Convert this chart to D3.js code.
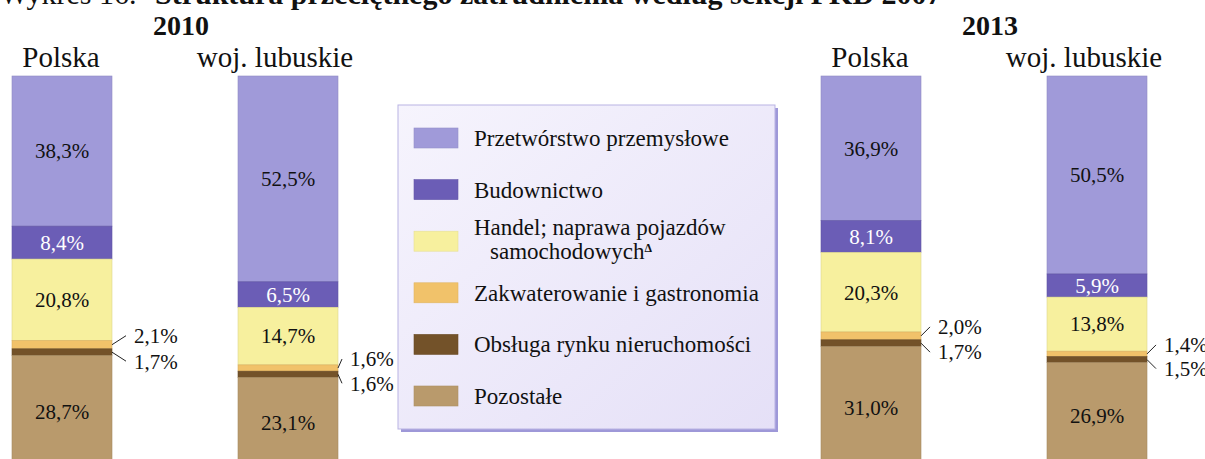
<!DOCTYPE html>
<html lang="pl">
<head>
<meta charset="utf-8">
<title>Struktura przeciętnego zatrudnienia</title>
<script src="https://d3js.org/d3.v7.min.js"></script>
<style>
  body { margin: 0; background: #fff; }
  svg text { font-family: "Liberation Serif", "Times New Roman", serif; fill: #111; }
</style>
</head>
<body>
<script>
// data
var sectors = ["Przetwórstwo przemysłowe", "Budownictwo", "Handel; naprawa pojazdów samochodowych",
               "Zakwaterowanie i gastronomia", "Obsługa rynku nieruchomości", "Pozostałe"];
var sectorColors = ["#a09ad9", "#6b5db6", "#f7f09e", "#f1c26a", "#735229", "#b99a6c"];
var years = ["2010", "2013"];
var regions = ["Polska", "woj. lubuskie"];
var polska2010 = [38.3, 8.4, 20.8, 2.1, 1.7, 28.7];
var lubuskie2010 = [52.5, 6.5, 14.7, 1.6, 1.6, 23.1];
var polska2013 = [36.9, 8.1, 20.3, 2.0, 1.7, 31.0];
var lubuskie2013 = [50.5, 5.9, 13.8, 1.4, 1.5, 26.9];

var bars = [
  {year: "2010", region: "Polska", values: polska2010},
  {year: "2010", region: "woj. lubuskie", values: lubuskie2010},
  {year: "2013", region: "Polska", values: polska2013},
  {year: "2013", region: "woj. lubuskie", values: lubuskie2013}
];

var W = 1205, H = 459;
var svg = d3.select("body").append("svg").attr("width", W).attr("height", H);

var pl = d3.formatLocale({decimal: ",", thousands: " ", grouping: [3], currency: ["", " zł"]});
var fmt = function(v) { return pl.format(".1f")(v) + "%"; };

var barW = 100;
var xYear = d3.scalePoint().domain(years).range([12, 821]);
var xRegion = d3.scalePoint().domain(regions).range([0, 226]);
var y = d3.scaleLinear().domain([0, 100]).range([76, 468]);
var color = d3.scaleOrdinal().domain(sectors).range(sectorColors);

// title (cut off at top, as in the source)
var title = svg.append("text").attr("y", 4).style("font-size", "30px");
title.append("tspan").attr("x", 0).text("Wykres 16.");
title.append("tspan").attr("x", 155).style("font-weight", "bold")
  .text("Struktura przeciętnego zatrudnienia według sekcji PKD 2007");

svg.selectAll(".year").data(years).enter().append("text")
  .attr("class", "year")
  .attr("x", function(d) { return xYear(d) + 169; })
  .attr("y", 35)
  .attr("text-anchor", "middle")
  .style("font-size", "28px").style("font-weight", "bold")
  .text(function(d) { return d; });

var g = svg.selectAll(".bar").data(bars).enter().append("g")
  .attr("class", "bar")
  .attr("transform", function(d) { return "translate(" + (xYear(d.year) + xRegion(d.region)) + ",0)"; });

g.append("text")
  .attr("x", function(d) { return d.region === "Polska" ? barW / 2 - 1 : barW / 2 - 13; })
  .attr("y", 67)
  .attr("text-anchor", "middle")
  .style("font-size", "29px")
  .text(function(d) { return d.region; });

g.each(function(d) {
  var sel = d3.select(this);
  var cum = [0].concat(Array.from(d3.cumsum(d.values)));
  var segs = d.values.map(function(v, i) { return {v: v, i: i, y0: cum[i], y1: cum[i + 1]}; });

  sel.selectAll("rect").data(segs).enter().append("rect")
    .attr("x", 0).attr("width", barW)
    .attr("y", function(s) { return y(s.y0); })
    .attr("height", function(s) { return y(s.y1) - y(s.y0); })
    .attr("fill", function(s) { return color(sectors[s.i]); })
    .attr("stroke", function(s) { return d3.color(color(sectors[s.i])).darker(0.3); })
    .attr("stroke-width", 0.6);

  // labels inside the bigger segments
  sel.selectAll("text.val").data(segs.filter(function(s) { return s.i !== 3 && s.i !== 4; })).enter()
    .append("text").attr("class", "val")
    .attr("x", barW / 2)
    .attr("y", function(s) { return (y(s.y0) + y(s.y1)) / 2; })
    .attr("dy", "0.35em")
    .attr("text-anchor", "middle")
    .style("font-size", "21px")
    .style("fill", function(s) { return s.i === 1 ? "#fff" : "#111"; })
    .text(function(s) { return fmt(s.v); });

  // small segments: labels outside with leader lines
  var gap = d.year === "2010" && d.region === "Polska" ? 22 : (d.year === "2010" ? 12 : 17);
  segs.filter(function(s) { return s.i === 3 || s.i === 4; }).forEach(function(s) {
    var cy = (y(s.y0) + y(s.y1)) / 2;
    var off = s.i === 3 ? -9 : 9;
    sel.append("line")
      .attr("x1", barW).attr("y1", cy)
      .attr("x2", barW + gap - 8).attr("y2", cy + off)
      .attr("stroke", "#222").attr("stroke-width", 1);
    sel.append("text")
      .attr("x", barW + gap)
      .attr("y", cy + off)
      .attr("dy", "0.35em")
      .style("font-size", "21px")
      .text(fmt(s.v));
  });
});

// legend
var defs = svg.append("defs");
var grad = defs.append("linearGradient").attr("id", "lgGrad")
  .attr("x1", "0").attr("y1", "0").attr("x2", "1").attr("y2", "1");
grad.append("stop").attr("offset", "0%").attr("stop-color", "#f6f4fd");
grad.append("stop").attr("offset", "100%").attr("stop-color", "#e5e0f7");

var lg = svg.append("g").attr("transform", "translate(398,105)");
lg.append("rect").attr("x", 3).attr("y", 3).attr("width", 377).attr("height", 324).attr("fill", "#9e98d8");
lg.append("rect").attr("x", 0).attr("y", 0).attr("width", 377).attr("height", 324)
  .attr("fill", "url(#lgGrad)").attr("stroke", "#b9b3e3").attr("stroke-width", 1);

var rowY = d3.scalePoint().domain(sectors).range([33, 291]);
var item = lg.selectAll(".item").data(sectors).enter().append("g")
  .attr("class", "item")
  .attr("transform", function(d) { return "translate(16," + rowY(d) + ")"; });

item.append("rect")
  .attr("x", 0).attr("y", -10).attr("width", 44).attr("height", 20)
  .attr("fill", function(d) { return color(d); })
  .attr("stroke", function(d) { return d3.color(color(d)).darker(0.2); })
  .attr("stroke-width", 0.6);

item.each(function(d, i) {
  var t = d3.select(this).append("text").attr("x", 60).style("font-size", "23px");
  if (i === 2) {
    t.append("tspan").attr("x", 60).attr("y", -14).attr("dy", "0.35em").text("Handel; naprawa pojazdów");
    t.append("tspan").attr("x", 76).attr("y", 10).attr("dy", "0.35em").text("samochodowych");
    t.append("tspan").attr("dy", "-0.6em").style("font-size", "12px").style("font-weight", "bold").text("\u0394");
  } else {
    t.attr("y", 0).attr("dy", "0.35em").text(d);
  }
});
</script>
</body>
</html>
